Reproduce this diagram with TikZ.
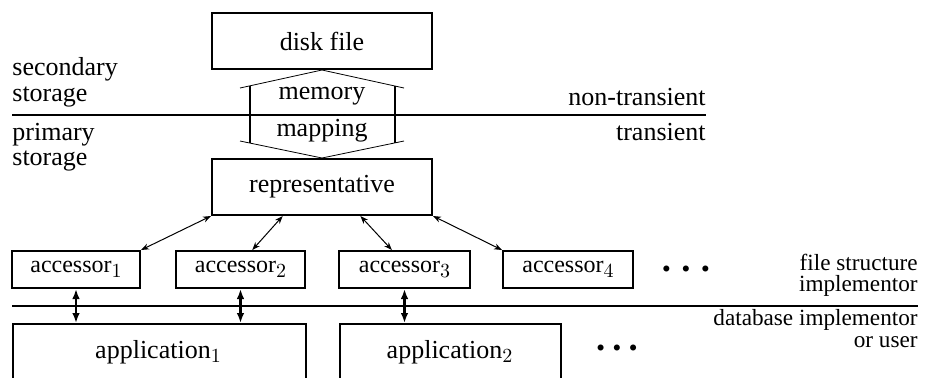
\documentclass[tikz,border=0pt]{standalone}
\usepackage[no-math]{fontspec}
\setmainfont{Liberation Serif}
\usetikzlibrary{arrows.meta,calc}
\newcommand\subidx[2]{\raisebox{-#2}{\fontsize{10}{10}\selectfont$#1$}}
\begin{document}
\begin{tikzpicture}[x=0.5pt,y=-0.5pt,
  box/.style={draw,line width=1pt,inner sep=0pt,font=\fontsize{13}{13}\selectfont},
  accbox/.style={draw,line width=1pt,inner sep=0pt,minimum height=18.5pt,font=\fontsize{12}{12}\selectfont},
  appbox/.style={draw,line width=1pt,inner sep=0pt,minimum height=40pt,anchor=north west},
  lbl/.style={inner sep=0pt,font=\fontsize{13}{13}\selectfont},
  slbl/.style={inner sep=0pt,font=\fontsize{11.6}{11.6}\selectfont},
  dotsl/.style={inner sep=0pt,font=\fontsize{7}{7}\selectfont},
  sepline/.style={line width=1pt},
  thinline/.style={line width=0.4pt},
  hexside/.style={line width=1.2pt},
  darr/.style={line width=0.5pt,{Stealth[length=4pt,width=3pt]}-{Stealth[length=4pt,width=3pt]}},
  varr/.style={line width=1.1pt,{Latex[length=5pt,width=3.8pt]}-{Latex[length=5pt,width=3.8pt]}}]
\useasboundingbox (0,0) rectangle (925,377);
\clip (0,0) rectangle (925,377);

% boxes
\node[box,minimum width=110pt,minimum height=28pt] (disk) at (322,41) {disk file};
\node[box,minimum width=110pt,minimum height=28pt] (rep) at (322,187) {representative};
\node[accbox,minimum width=64pt] (acc1) at (76,269.5) {accessor\subidx{1}{2.2pt}};
\node[accbox,minimum width=64.5pt] (acc2) at (240.5,269.5) {accessor\subidx{2}{2.2pt}};
\node[accbox,minimum width=65.5pt] (acc3) at (404.5,269.5) {accessor\subidx{3}{2.2pt}};
\node[accbox,minimum width=65pt] (acc4) at (568,269.5) {accessor\subidx{4}{2.2pt}};
\node[appbox,minimum width=146.5pt] (app1) at (12,323) {};
\node[appbox,minimum width=110.5pt] (app2) at (339,323) {};
\node[lbl,anchor=base] (app1t) at (158,358) {application\subidx{1}{2.4pt}};
\node[lbl,anchor=base] (app2t) at (449.5,358) {application\subidx{2}{2.4pt}};

% separator lines
\coordinate (l1a) at (12,115);
\coordinate (l1b) at (706,115);
\coordinate (l2a) at (12,306);
\coordinate (l2b) at (918,306);
\draw[sepline] (l1a) -- (l1b);
\draw[sepline] (l2a) -- (l2b);

% memory mapping hexagon
\coordinate (hl1) at (240,88);
\coordinate (hr1) at (404,88);
\coordinate (hl2) at (240,141);
\coordinate (hr2) at (404,141);
\coordinate (vl1) at (250,86);
\coordinate (vl2) at (250,143);
\coordinate (vr1) at (395,86);
\coordinate (vr2) at (395,143);
\draw[thinline] (hl1) -- (disk.south) -- (hr1);
\draw[thinline] (hl2) -- (rep.north) -- (hr2);
\draw[hexside] (vl1) -- (vl2);
\draw[hexside] (vr1) -- (vr2);
\node[lbl,anchor=base] (mem) at (322,99) {memory};
\node[lbl,anchor=base] (map) at (322,136) {mapping};

% side labels
\node[lbl,anchor=base west] (sec1) at (12,75) {secondary};
\node[lbl,anchor=base west] (sec2) at (12,101) {storage};
\node[lbl,anchor=base west] (pri1) at (12,140) {primary};
\node[lbl,anchor=base west] (pri2) at (12,165) {storage};
\node[lbl,anchor=base east] (nt) at (706,105) {non-transient};
\node[lbl,anchor=base east] (tr) at (706,140) {transient};
\node[slbl,anchor=base east] (fs1) at (918,270) {file structure};
\node[slbl,anchor=base east] (fs2) at (918,291) {implementor};
\node[slbl,anchor=base east] (db1) at (918,325) {database implementor};
\node[slbl,anchor=base east] (db2) at (918,347) {or user};

% dots
\node[dotsl] (dotsa) at (686,269) {$\bullet$\hspace{5.7pt}$\bullet$\hspace{5.7pt}$\bullet$};
\node[dotsl] (dotsb) at (617,348) {$\bullet$\hspace{4pt}$\bullet$\hspace{4pt}$\bullet$};

% arrows
\draw[darr] (rep.south west) -- (acc1.north east);
\draw[darr] ($(rep.south west)!0.323!(rep.south east)$) -- ($(acc2.north west)!0.59!(acc2.north east)$);
\draw[darr] ($(rep.south west)!0.673!(rep.south east)$) -- ($(acc3.north west)!0.405!(acc3.north east)$);
\draw[darr] (rep.south east) -- (acc4.north west);
\draw[varr] (acc1.south) -- (acc1.south |- app1.north);
\draw[varr] (acc2.south) -- (acc2.south |- app1.north);
\draw[varr] (acc3.south) -- (acc3.south |- app2.north);
\end{tikzpicture}
\end{document}
